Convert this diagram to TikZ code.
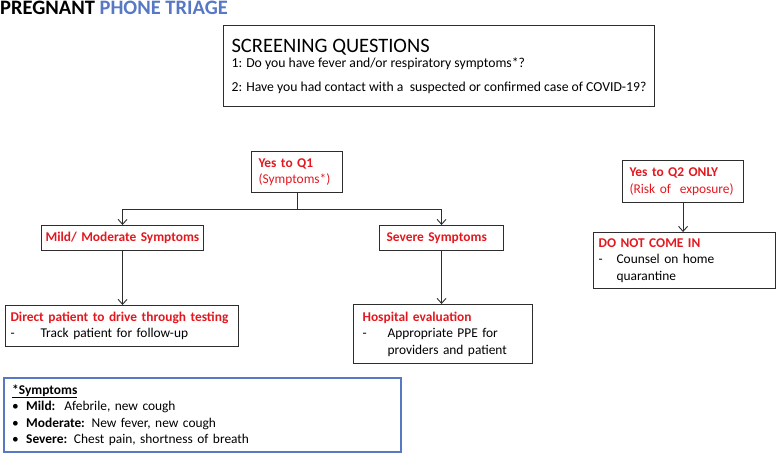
\documentclass[tikz,border=0pt]{standalone}
\usepackage{fontspec}
\setmainfont{Carlito}
\usetikzlibrary{arrows.meta}
\definecolor{triagered}{RGB}{227,24,31}
\definecolor{triageblue}{RGB}{88,120,196}
\definecolor{edgegray}{RGB}{45,45,45}
\tikzset{
  box/.style={draw=edgegray, line width=1.1pt, anchor=north west, align=left,
    inner xsep=5pt, inner ysep=2pt, font=\fontsize{13.4}{16.5}\selectfont},
  flow/.style={draw=edgegray, line width=0.9pt, -{Straight Barb[length=5pt,width=9pt]}},
}
\newcommand{\hd}[1]{\textcolor{triagered}{\textbf{#1}}}
\begin{document}
\begin{tikzpicture}[x=1pt,y=-1pt]
\useasboundingbox (0,0) rectangle (778,454);
% title
\node[anchor=north west, inner sep=0pt, font=\fontsize{20.5}{22}\selectfont\bfseries]
  (title) at (0,1) {PREGNANT \textcolor{triageblue}{PHONE TRIAGE}};
% screening questions
\node[box, minimum width=326pt, minimum height=81pt, inner xsep=8pt,
      font=\fontsize{13.7}{16}\selectfont] (screen) at (223,25)
  {{\fontsize{20.5}{22}\selectfont SCREENING QUESTIONS}\\[-1pt]
   1: Do you have fever and/or respiratory symptoms*?\\[8pt]
   2: Have you had contact with a \ suspected or confirmed case of COVID-19?};
% Q1 branch
\node[box, text width=77pt, minimum height=41pt, inner xsep=7pt] (q1) at (251,151)
  {\hd{Yes to Q1}\\ \textcolor{triagered}{(Symptoms*)}};
\node[box, text width=154pt, minimum height=25pt, inner xsep=4pt] (mild) at (41,225)
  {\mbox{\hd{Mild/ Moderate Symptoms}}};
\node[box, text width=110pt, minimum height=25pt, inner xsep=7pt] (severe) at (379,225)
  {\mbox{\hd{Severe Symptoms}}};
\node[box, text width=223pt, minimum height=41pt] (drive) at (5,305)
  {\hd{Direct patient to drive through testing}\\
   \makebox[30pt][l]{-}Track patient for follow-up};
\node[box, text width=161pt, minimum height=59pt, inner xsep=9pt] (hosp) at (353,304)
  {\hd{Hospital evaluation}\\
   \makebox[25pt][l]{-}Appropriate PPE for\\
   \hspace*{25pt}providers and patient};
% Q2 branch
\node[box, text width=107pt, minimum height=42pt, inner xsep=7pt] (q2) at (622,160)
  {\hd{Yes to Q2 ONLY}\\ \textcolor{triagered}{(Risk of \ exposure)}};
\node[box, text width=172pt, minimum height=56pt] (stay) at (593,232)
  {\hd{DO NOT COME IN}\\
   \makebox[18pt][l]{-}Counsel on home\\
   \hspace*{18pt}quarantine};
% legend
\node[box, draw=triageblue, line width=2.4pt, text width=381pt, minimum height=74pt,
      inner xsep=8pt] (legend) at (3,377)
  {\textbf{\underline{*Symptoms}}\\
   \makebox[14pt][l]{\textbullet}\textbf{Mild:}\ \ Afebrile, new cough\\
   \makebox[14pt][l]{\textbullet}\textbf{Moderate:} New fever, new cough\\
   \makebox[14pt][l]{\textbullet}\textbf{Severe:} Chest pain, shortness of breath\\[-3pt]};
% connectors
\draw[flow] (q1.south) -- ++(0,16) -| (mild.north);
\draw[flow] (q1.south) -- ++(0,16) -| (severe.north);
\draw[flow] (mild.south) -- (drive.north -| mild.south);
\draw[flow] (severe.south) -- (hosp.north -| severe.south);
\draw[flow] (q2.south) -- (stay.north -| q2.south);
\end{tikzpicture}
\end{document}
